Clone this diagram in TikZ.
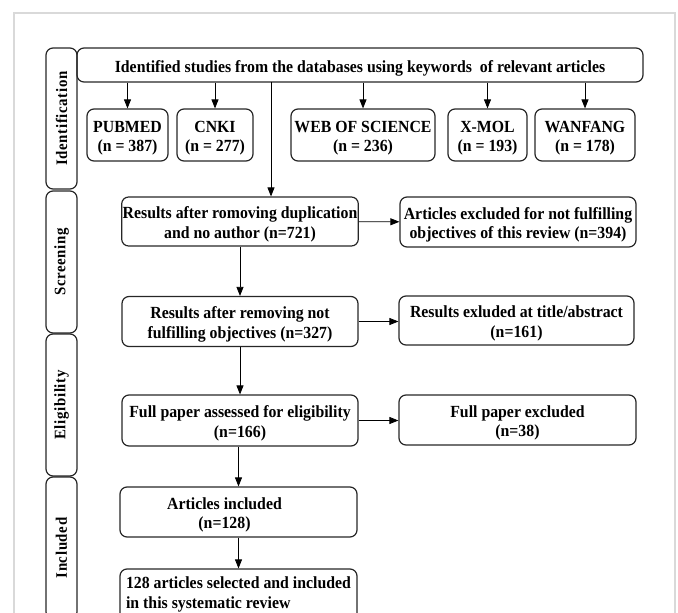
\documentclass[tikz,border=0pt]{standalone}
\usepackage{fontspec}
\setmainfont{Liberation Serif}[FakeStretch=0.93]
\newfontfamily\sidefont{Liberation Serif}[FakeStretch=0.93, LetterSpace=4]
\usetikzlibrary{arrows.meta}
\newcommand{\topgap}{\rule{0pt}{18pt}} % text sits a bit low in the boxes

\begin{document}
\begin{tikzpicture}[
				x = 1pt, y = -1pt, % pixel units, y going down
				> = {Triangle[length=9pt,width=7pt]}, % arrow head style
				line width = 1.2pt, % line style
				font = \bfseries\fontsize{17}{19.5}\selectfont
				]
				
				\tikzstyle{frame}=[
				draw = black!85,
				rounded corners = 7pt,
				inner sep = 1pt
				]
				\tikzstyle{box}=[
				frame,
				align = center
				]
				\tikzstyle{side}=[
				frame,
				rotate = 90,
				minimum height = 31pt,
				font = \sidefont\bfseries\fontsize{16}{18}\selectfont
				]
				\tikzstyle{arrow}=[->, line width = 0.8pt, black]
				
				\useasboundingbox (0,0) rectangle (678,613);
				\clip (0,0) rectangle (678,613);
				% frame of the figure
				\draw[gray!30, line width = 1.5pt] (14,640) -- (14,13) -- (675,13) -- (675,640);
				
				% phases
				\node[side, minimum width = 141pt] (ident) at (61.5,118.5) {Identification};
				\node[side, minimum width = 142pt] (screen) at (61.5,262) {Screening};
				\node[side, minimum width = 142pt] (elig) at (61.5,405) {Eligibility};
				\node[side, minimum width = 142pt] (incl) at (61.5,548) {Included};
				
				% identification
				\node[box, minimum width = 566pt, minimum height = 34pt] (top) at (360,65)
				{\topgap Identified studies from the databases using keywords\ \ of relevant articles};
				\node[box, minimum width = 81pt, minimum height = 52pt] (pubmed) at (127.5,135) {\topgap PUBMED\\(n = 387)};
				\node[box, minimum width = 76pt, minimum height = 52pt] (cnki) at (215,135) {\topgap CNKI\\(n = 277)};
				\node[box, minimum width = 144pt, minimum height = 52pt] (wos) at (363,135) {\topgap WEB OF SCIENCE\\(n = 236)};
				\node[box, minimum width = 79pt, minimum height = 52pt] (xmol) at (487.5,135) {\topgap X-MOL\\(n = 193)};
				\node[box, minimum width = 100pt, minimum height = 52pt] (wanfang) at (585,135) {\topgap WANFANG\\(n = 178)};
				
				% screening, eligibility, included
				\node[box, minimum width = 236pt, minimum height = 49pt] (res1) at (240,221.5)
				{\topgap Results after romoving duplication\\and no author (n=721)};
				\node[box, minimum width = 236pt, minimum height = 50pt] (excl1) at (518,222)
				{\topgap Articles excluded for not fulfilling\\objectives of this review (n=394)};
				\node[box, minimum width = 236pt, minimum height = 50pt] (res2) at (240,321.5)
				{\topgap Results after removing not\\fulfilling objectives (n=327)};
				\node[box, minimum width = 235pt, minimum height = 49pt] (excl2) at (516.5,320.5)
				{\topgap Results exluded at title/abstract\\(n=161)};
				\node[box, minimum width = 236pt, minimum height = 51pt] (full) at (240,420.5)
				{\topgap Full paper assessed for eligibility\\(n=166)};
				\node[box, minimum width = 237pt, minimum height = 50pt] (fullx) at (517.5,420)
				{\topgap Full paper excluded\\(n=38)};
				\node[box, minimum width = 237pt, minimum height = 50pt] (incl1) at (238.5,512)
				{\topgap Articles included\hspace*{28pt}\\(n=128)\hspace*{28pt}};
				\node[box, align = left, minimum width = 237pt, minimum height = 51pt] (final) at (238.5,594.5)
				{128 articles selected and included\\in this systematic review};
				
				\coordinate (fork) at (271,82);
				
				\path[arrow]
				(top.south -| pubmed) edge (pubmed)
				(top.south -| cnki) edge (cnki)
				(top.south -| wos) edge (wos)
				(top.south -| xmol) edge (xmol)
				(top.south -| wanfang) edge (wanfang)
				(fork) edge (fork |- res1.north)
				(res1) edge (res2)
				(res2) edge (full)
				(full.south -| incl1) edge (incl1)
				(incl1) edge (final)
				(res1) edge (excl1)
				(res2) edge (res2 -| excl2.west)
				(full) edge (full -| fullx.west)
				;
\end{tikzpicture}
\end{document}
